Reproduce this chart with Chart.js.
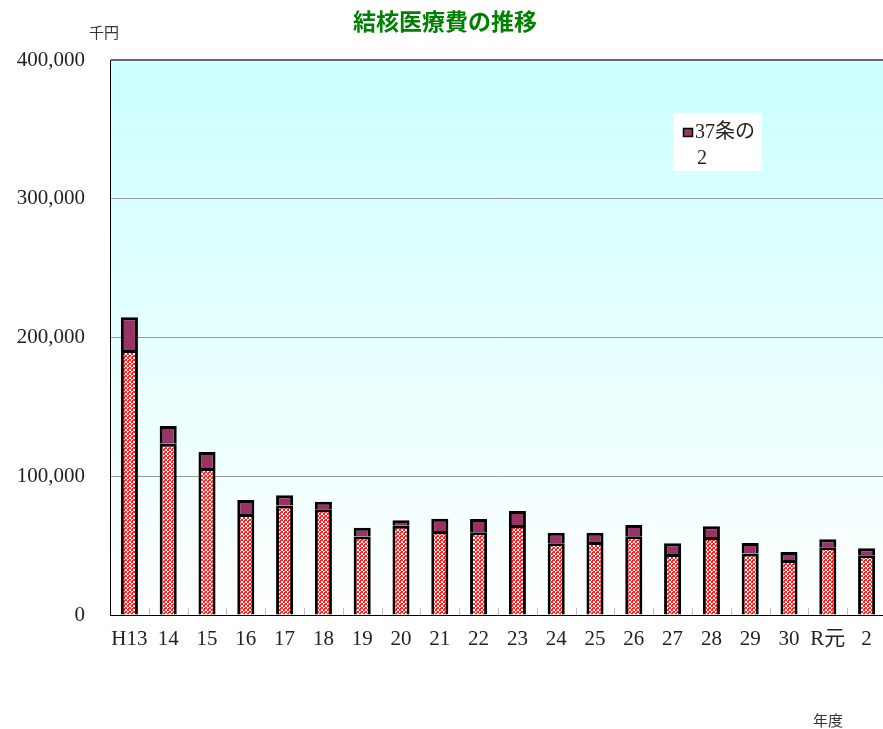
<!DOCTYPE html>
<html>
<head>
<meta charset="utf-8">
<script src="https://cdn.jsdelivr.net/npm/chart.js@4/dist/chart.umd.min.js"></script>
<style>
html,body{margin:0;padding:0;background:#fff;}
#wrap{width:883px;height:729px;overflow:hidden;position:relative;}
canvas{display:block;}
</style>
</head>
<body>
<div id="wrap"><canvas id="c" width="886" height="729" style="width:886px;height:729px"></canvas></div>
<script>
const titleText = '結核医療費の推移';
const unitText = '千円';
const xAxisText = '年度';
const categories = ['H13','14','15','16','17','18','19','20','21','22','23','24','25','26','27','28','29','30','R元','2'];
const seriesBaseName = '37条';
const seriesBase = [191000,123500,106000,72800,79000,76200,56500,64400,60500,59600,64900,51700,52600,56700,44000,56200,44400,39600,48800,43000];
const seriesTopName = '37条の2';
const seriesTop = [23600,12700,11500,10100,7300,5500,6400,3800,8900,9600,10100,7600,6700,8200,7700,7700,7500,5800,5800,5100];
const yTicks = [0,100000,200000,300000,400000];

const SERIF = '"Liberation Serif", "Noto Sans CJK JP", serif';
const CJK = '"Noto Sans CJK JP", sans-serif';

function makePattern(){
  const t = document.createElement('canvas');
  t.width = 4; t.height = 4;
  const g = t.getContext('2d');
  g.fillStyle = '#ff2020'; g.fillRect(0,0,4,4);
  g.fillStyle = '#ffffff';
  [[1,1],[2,1],[1,2],[2,2],[3,3],[0,3],[3,0]].forEach(p=>g.fillRect(p[0],p[1],1,1));
  return g.createPattern(t,'repeat');
}

const bgPlugin = {
  id:'bg',
  beforeDraw(chart){
    const {ctx, chartArea:a} = chart;
    const gr = ctx.createLinearGradient(0,a.top,0,a.bottom);
    gr.addColorStop(0,'#CCFFFF');
    gr.addColorStop(1,'#FFFFFF');
    ctx.save();
    ctx.fillStyle = gr;
    ctx.fillRect(a.left,a.top,a.right-a.left,a.bottom-a.top);
    ctx.restore();
  },
  afterDatasetsDraw(chart){
    const {ctx, chartArea:a} = chart;
    const n = categories.length;
    const w = (a.right-a.left)/n;
    ctx.save();
    ctx.strokeStyle = '#c0c0c0';
    ctx.lineWidth = 1;
    for(let k=1;k<n;k++){
      const x = Math.round(a.left + k*w)+0.5;
      ctx.beginPath(); ctx.moveTo(x,a.bottom-7); ctx.lineTo(x,a.bottom); ctx.stroke();
    }
    ctx.restore();
  },
  afterDraw(chart){
    const ctx = chart.ctx;
    ctx.save();
    ctx.fillStyle = '#008000';
    ctx.font = 'bold 23px ' + CJK;
    ctx.textAlign = 'center'; ctx.textBaseline = 'middle';
    ctx.fillText(titleText, 445, 21);
    ctx.fillStyle = '#333333';
    ctx.font = '15px ' + CJK;
    ctx.fillText(unitText, 104, 32);
    ctx.fillText(xAxisText, 828, 720);
    // legend
    ctx.fillStyle = '#ffffff';
    ctx.fillRect(673,113,89,58);
    ctx.fillStyle = '#993366';
    ctx.fillRect(683,128,10,9);
    ctx.strokeStyle = '#000'; ctx.lineWidth = 1.5;
    ctx.strokeRect(683.5,128.5,9,8);
    ctx.fillStyle = '#222';
    ctx.font = '20px ' + SERIF;
    ctx.textAlign = 'left';
    const lbl = chart.data.datasets[1].label;
    ctx.fillText(lbl.slice(0,lbl.length-1), 695, 133);
    ctx.fillText(lbl.slice(lbl.length-1), 697, 159);
    ctx.restore();
  }
};

new Chart(document.getElementById('c'), {
  type:'bar',
  data:{
    labels: categories,
    datasets:[
      {label: seriesBaseName, data: seriesBase, backgroundColor: makePattern(), borderColor:'#000', borderWidth:3, barPercentage:0.44, categoryPercentage:1},
      {label: seriesTopName, data: seriesTop, backgroundColor:'#993366', borderColor:'#000', borderWidth:3, barPercentage:0.44, categoryPercentage:1}
    ]
  },
  options:{
    responsive:false,
    animation:false,
    devicePixelRatio:1,
    layout:{padding:{top:60,left:0,right:0,bottom:0}},
    plugins:{legend:{display:false}, title:{display:false}, tooltip:{enabled:false}},
    scales:{
      x:{
        stacked:true,
        grid:{display:false, drawTicks:false},
        border:{display:true,color:'#000',width:1},
        ticks:{padding:12, color:'#222', font:{family:SERIF, size:21}, maxRotation:0, autoSkip:false},
        afterFit(s){ s.height = 114; }
      },
      y:{
        stacked:true,
        min:0, max:400000,
        afterBuildTicks(s){ s.ticks = yTicks.map(v=>({value:v})); },
        grid:{
          drawTicks:false,
          color(c){ return c.tick && c.tick.value===400000 ? '#666666' : (c.tick && c.tick.value===0 ? 'rgba(0,0,0,0)' : '#999999'); },
          lineWidth(c){ return c.tick && c.tick.value===400000 ? 2 : 1; }
        },
        border:{display:true,color:'#000',width:1},
        ticks:{padding:25, color:'#222', font:{family:SERIF, size:21}, callback:(v)=>Number(v).toLocaleString('en-US')},
        afterFit(s){ s.width = 110; }
      }
    }
  },
  plugins:[bgPlugin]
});
</script>
</body>
</html>
